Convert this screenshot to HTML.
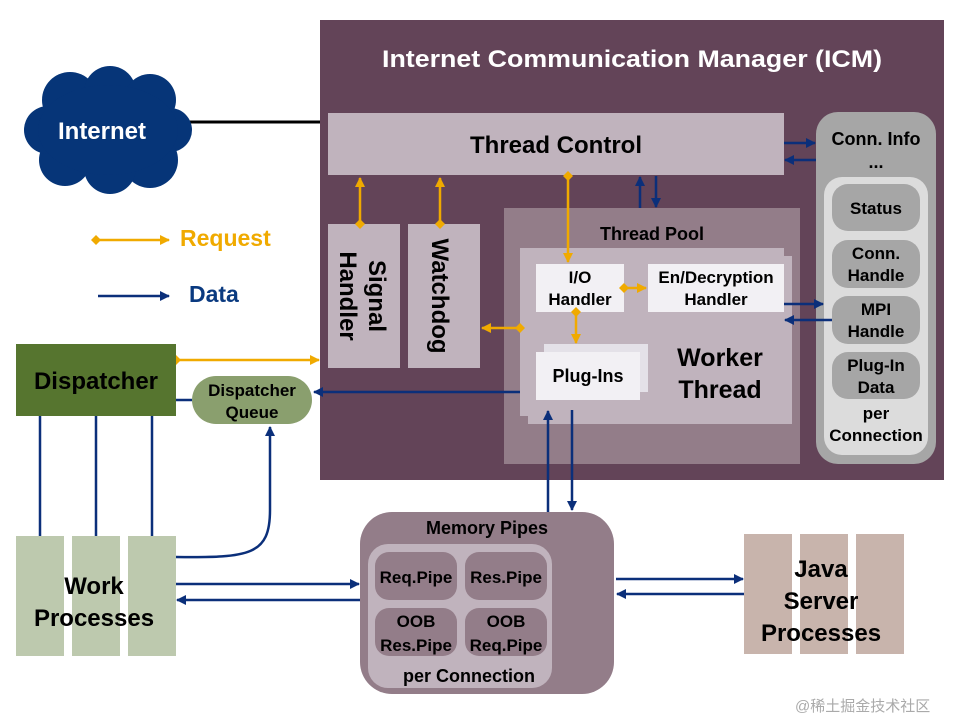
<!DOCTYPE html>
<html><head><meta charset="utf-8"><style>
html,body{margin:0;padding:0;background:#fff;}
svg{display:block;}
text{font-family:"Liberation Sans",Arial,sans-serif;font-weight:bold;}
</style></head><body>
<svg width="960" height="720" viewBox="0 0 960 720" xmlns="http://www.w3.org/2000/svg">
<defs>
<marker id="ab" viewBox="0 0 10 10" refX="9" refY="5" markerWidth="4" markerHeight="4" orient="auto-start-reverse"><path d="M0,0L10,5L0,10z" fill="#0b2f7a"/></marker>
<marker id="ao" viewBox="0 0 10 10" refX="9" refY="5" markerWidth="4" markerHeight="4" orient="auto-start-reverse"><path d="M0,0L10,5L0,10z" fill="#f0aa00"/></marker>
<marker id="do" viewBox="0 0 10 10" refX="5" refY="5" markerWidth="4" markerHeight="4" orient="auto"><path d="M0,5L5,0L10,5L5,10z" fill="#f0aa00"/></marker>
</defs>

<!-- ICM -->
<rect x="320" y="20" width="624" height="460" fill="#634458"/>
<text x="632" y="67" font-size="24" fill="#fff" text-anchor="middle" textLength="500" lengthAdjust="spacingAndGlyphs">Internet Communication Manager (ICM)</text>
<rect x="328" y="113" width="456" height="62" fill="#c0b3bd"/>
<text x="556" y="153" font-size="24" fill="#000" text-anchor="middle">Thread Control</text>

<!-- Conn info -->
<rect x="816" y="112" width="120" height="352" rx="22" fill="#a6a6a6"/>
<text x="876" y="145" font-size="18" text-anchor="middle">Conn. Info</text>
<text x="876" y="168" font-size="18" text-anchor="middle">...</text>
<rect x="824" y="177" width="104" height="278" rx="18" fill="#dcdcdc"/>
<rect x="832" y="184" width="88" height="47" rx="16" fill="#a6a6a6"/>
<text x="876" y="214" font-size="17" text-anchor="middle">Status</text>
<rect x="832" y="240" width="88" height="48" rx="16" fill="#a6a6a6"/>
<text x="876" y="259" font-size="17" text-anchor="middle">Conn.</text>
<text x="876" y="281" font-size="17" text-anchor="middle">Handle</text>
<rect x="832" y="296" width="88" height="48" rx="16" fill="#a6a6a6"/>
<text x="876" y="315" font-size="17" text-anchor="middle">MPI</text>
<text x="876" y="337" font-size="17" text-anchor="middle">Handle</text>
<rect x="832" y="352" width="88" height="47" rx="16" fill="#a6a6a6"/>
<text x="876" y="371" font-size="17" text-anchor="middle">Plug-In</text>
<text x="876" y="393" font-size="17" text-anchor="middle">Data</text>
<text x="876" y="419" font-size="17" text-anchor="middle">per</text>
<text x="876" y="441" font-size="17" text-anchor="middle">Connection</text>

<!-- Signal / Watchdog -->
<rect x="328" y="224" width="72" height="144" fill="#c0b3bd"/>
<rect x="408" y="224" width="72" height="144" fill="#c0b3bd"/>
<text transform="translate(369,296) rotate(90)" font-size="24" text-anchor="middle">Signal</text>
<text transform="translate(340,296) rotate(90)" font-size="24" text-anchor="middle">Handler</text>
<text transform="translate(432,296) rotate(90)" font-size="24" text-anchor="middle">Watchdog</text>

<!-- Thread Pool -->
<rect x="504" y="208" width="296" height="256" fill="#937d89"/>
<text x="652" y="240" font-size="18" text-anchor="middle">Thread Pool</text>
<rect x="528" y="256" width="264" height="168" fill="#c0b3bd"/>
<rect x="520" y="248" width="264" height="168" fill="#c0b3bd"/>
<rect x="536" y="264" width="88" height="48" fill="#f2f0f4"/>
<text x="580" y="283" font-size="17" text-anchor="middle">I/O</text>
<text x="580" y="305" font-size="17" text-anchor="middle">Handler</text>
<rect x="648" y="264" width="136" height="48" fill="#f2f0f4"/>
<text x="716" y="283" font-size="17" text-anchor="middle">En/Decryption</text>
<text x="716" y="305" font-size="17" text-anchor="middle">Handler</text>
<rect x="544" y="344" width="104" height="48" fill="#e4e1e8"/>
<rect x="536" y="352" width="104" height="48" fill="#f2f0f4"/>
<text x="588" y="382" font-size="18" text-anchor="middle">Plug-Ins</text>
<text x="720" y="366" font-size="25" text-anchor="middle">Worker</text>
<text x="720" y="398" font-size="25" text-anchor="middle">Thread</text>

<!-- orange arrows in ICM -->
<g stroke="#f0aa00" stroke-width="2.5" fill="none">
<line x1="360" y1="224" x2="360" y2="178" marker-start="url(#do)" marker-end="url(#ao)"/>
<line x1="440" y1="224" x2="440" y2="178" marker-start="url(#do)" marker-end="url(#ao)"/>
<line x1="568" y1="176" x2="568" y2="262" marker-start="url(#do)" marker-end="url(#ao)"/>
<line x1="624" y1="288" x2="646" y2="288" marker-start="url(#do)" marker-end="url(#ao)"/>
<line x1="576" y1="312" x2="576" y2="343" marker-start="url(#do)" marker-end="url(#ao)"/>
<line x1="520" y1="328" x2="482" y2="328" marker-start="url(#do)" marker-end="url(#ao)"/>
<line x1="176" y1="360" x2="319" y2="360" marker-start="url(#do)" marker-end="url(#ao)"/>
<line x1="96" y1="240" x2="169" y2="240" marker-start="url(#do)" marker-end="url(#ao)"/>
</g>

<!-- blue arrows -->
<g stroke="#0b2f7a" stroke-width="2.5" fill="none">
<line x1="640" y1="208" x2="640" y2="177" marker-end="url(#ab)"/>
<line x1="656" y1="176" x2="656" y2="207" marker-end="url(#ab)"/>
<line x1="784" y1="143" x2="815" y2="143" marker-end="url(#ab)"/>
<line x1="816" y1="160" x2="785" y2="160" marker-end="url(#ab)"/>
<line x1="784" y1="304" x2="823" y2="304" marker-end="url(#ab)"/>
<line x1="832" y1="320" x2="785" y2="320" marker-end="url(#ab)"/>
<line x1="520" y1="392" x2="314" y2="392" marker-end="url(#ab)"/>
<line x1="176" y1="400" x2="192" y2="400"/>
<line x1="40" y1="416" x2="40" y2="536"/>
<line x1="96" y1="416" x2="96" y2="536"/>
<line x1="152" y1="416" x2="152" y2="536"/>
<path d="M176,557 C250,558 270,555 270,510 L270,427" marker-end="url(#ab)"/>
<line x1="176" y1="584" x2="359" y2="584" marker-end="url(#ab)"/>
<line x1="360" y1="600" x2="177" y2="600" marker-end="url(#ab)"/>
<line x1="548" y1="512" x2="548" y2="411" marker-end="url(#ab)"/>
<line x1="572" y1="410" x2="572" y2="510" marker-end="url(#ab)"/>
<line x1="616" y1="579" x2="743" y2="579" marker-end="url(#ab)"/>
<line x1="744" y1="594" x2="617" y2="594" marker-end="url(#ab)"/>
<line x1="98" y1="296" x2="169" y2="296" marker-end="url(#ab)"/>
</g>

<!-- Internet -->
<line x1="188" y1="122" x2="320" y2="122" stroke="#000" stroke-width="3"/>
<g fill="#063578">
<circle cx="70" cy="100" r="28"/><circle cx="110" cy="92" r="26"/><circle cx="150" cy="100" r="26"/>
<circle cx="170" cy="130" r="22"/><circle cx="150" cy="160" r="28"/><circle cx="110" cy="168" r="26"/>
<circle cx="65" cy="160" r="26"/><circle cx="48" cy="130" r="24"/><ellipse cx="108" cy="130" rx="70" ry="45"/>
</g>
<text x="102" y="139" font-size="24" fill="#fff" text-anchor="middle">Internet</text>

<!-- Legend -->
<text x="180" y="246" font-size="23" fill="#f0aa00">Request</text>
<text x="189" y="302" font-size="23" fill="#0a3a80">Data</text>

<!-- Dispatcher -->
<rect x="16" y="344" width="160" height="72" fill="#56752f"/>
<text x="96" y="389" font-size="24" text-anchor="middle">Dispatcher</text>
<rect x="192" y="376" width="120" height="48" rx="24" fill="#8a9f6e"/>
<text x="252" y="396" font-size="17" text-anchor="middle">Dispatcher</text>
<text x="252" y="418" font-size="17" text-anchor="middle">Queue</text>

<!-- Work processes -->
<rect x="16" y="536" width="48" height="120" fill="#bdc9ae"/>
<rect x="72" y="536" width="48" height="120" fill="#bdc9ae"/>
<rect x="128" y="536" width="48" height="120" fill="#bdc9ae"/>
<text x="94" y="594" font-size="24" text-anchor="middle">Work</text>
<text x="94" y="626" font-size="24" text-anchor="middle">Processes</text>

<!-- Memory pipes -->
<rect x="360" y="512" width="254" height="182" rx="32" fill="#937d89"/>
<text x="487" y="534" font-size="18" text-anchor="middle">Memory Pipes</text>
<rect x="368" y="544" width="184" height="144" rx="20" fill="#c0b3bd"/>
<rect x="375" y="552" width="82" height="48" rx="14" fill="#937d89"/>
<rect x="465" y="552" width="82" height="48" rx="14" fill="#937d89"/>
<rect x="375" y="608" width="82" height="48" rx="14" fill="#937d89"/>
<rect x="465" y="608" width="82" height="48" rx="14" fill="#937d89"/>
<text x="416" y="583" font-size="17" text-anchor="middle">Req.Pipe</text>
<text x="506" y="583" font-size="17" text-anchor="middle">Res.Pipe</text>
<text x="416" y="627" font-size="17" text-anchor="middle">OOB</text>
<text x="416" y="651" font-size="17" text-anchor="middle">Res.Pipe</text>
<text x="506" y="627" font-size="17" text-anchor="middle">OOB</text>
<text x="506" y="651" font-size="17" text-anchor="middle">Req.Pipe</text>
<text x="469" y="682" font-size="18" text-anchor="middle">per Connection</text>

<!-- Java -->
<rect x="744" y="534" width="48" height="120" fill="#c8b4ac"/>
<rect x="800" y="534" width="48" height="120" fill="#c8b4ac"/>
<rect x="856" y="534" width="48" height="120" fill="#c8b4ac"/>
<text x="821" y="577" font-size="24" text-anchor="middle">Java</text>
<text x="821" y="609" font-size="24" text-anchor="middle">Server</text>
<text x="821" y="641" font-size="24" text-anchor="middle">Processes</text>

<text x="795" y="711" font-size="15" fill="#aaa" style="font-weight:normal;font-family:'Liberation Sans','Noto Sans CJK SC',sans-serif">@稀土掘金技术社区</text>
</svg>
</body></html>
